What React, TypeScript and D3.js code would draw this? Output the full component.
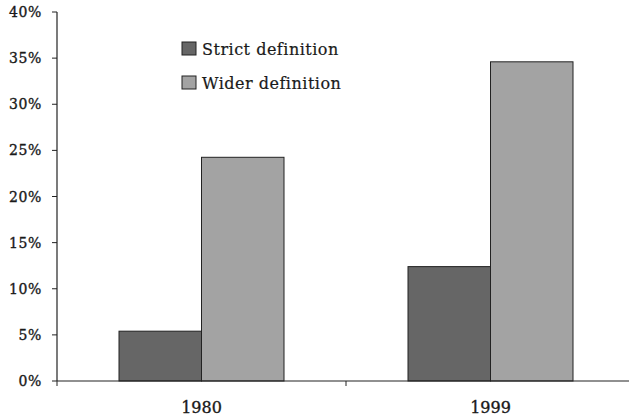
import React from "react";
import * as d3 from "d3";

const categories = ["1980", "1999"];
const seriesNames = ["Strict definition", "Wider definition"];
const strictValues = [5.4, 12.4];
const widerValues = [24.25, 34.6];
const yTicks = [0, 5, 10, 15, 20, 25, 30, 35, 40];
const colors = ["#666666", "#a3a3a3"];

export default function App() {
  const W = 629, H = 419;
  const x0 = 57, x1 = 635, y0 = 381, y1 = 12;
  const x = d3.scaleBand<string>().domain(categories).range([x0, x1]).paddingInner(0).paddingOuter(0);
  const y = d3.scaleLinear().domain([0, 40]).range([y0, y1]);
  const groupW = 165;
  const inner = d3.scaleBand<string>().domain(seriesNames).range([0, groupW]);
  const series = [strictValues, widerValues];
  const font = "DejaVu Serif";
  const xTicks = [x0, ...categories.map((c) => (x(c) as number) + x.bandwidth())];
  const textCol = "#1a1a1a";
  return (
    <svg width={W} height={H} style={{ position: "absolute", left: 0, top: 0, background: "#fff" }}>
      {categories.map((c, ci) => {
        const cx = (x(c) as number) + x.bandwidth() / 2;
        return series.map((vals, si) => (
          <rect
            key={c + si}
            x={cx - groupW / 2 + (inner(seriesNames[si]) as number)}
            y={y(vals[ci])}
            width={inner.bandwidth()}
            height={y(0) - y(vals[ci])}
            fill={colors[si]}
            stroke="#222"
            strokeWidth={1}
          />
        ));
      })}
      <line x1={x0} x2={x0} y1={y1} y2={y0} stroke="#222" strokeWidth={1.2} />
      <line x1={x0} x2={W} y1={y0} y2={y0} stroke="#222" strokeWidth={1.2} />
      {yTicks.map((t) => (
        <g key={t}>
          <line x1={x0 - 5} x2={x0} y1={y(t)} y2={y(t)} stroke="#222" strokeWidth={1} />
          <text x={42} y={y(t)} dy="0.36em" textAnchor="end" fontFamily={font} fontSize={14} letterSpacing={0.6} fill={textCol} stroke={textCol} strokeWidth={0.35}>
            {t + "%"}
          </text>
        </g>
      ))}
      {xTicks.map((t, i) => (
        <line key={i} x1={t} x2={t} y1={y0} y2={y0 + 5} stroke="#222" strokeWidth={1} />
      ))}
      {categories.map((c) => (
        <text key={c} x={(x(c) as number) + x.bandwidth() / 2} y={413} textAnchor="middle" fontFamily={font} fontSize={16} fill={textCol} stroke={textCol} strokeWidth={0.35}>
          {c}
        </text>
      ))}
      {seriesNames.map((s, i) => (
        <g key={s} transform={`translate(182, ${42 + i * 34})`}>
          <rect x={0} y={0} width={14} height={13} fill={colors[i]} stroke="#222" strokeWidth={1} />
          <text x={20} y={13} fontFamily={font} fontSize={16} letterSpacing={0.5} fill={textCol} stroke={textCol} strokeWidth={0.2}>
            {s}
          </text>
        </g>
      ))}
    </svg>
  );
}
